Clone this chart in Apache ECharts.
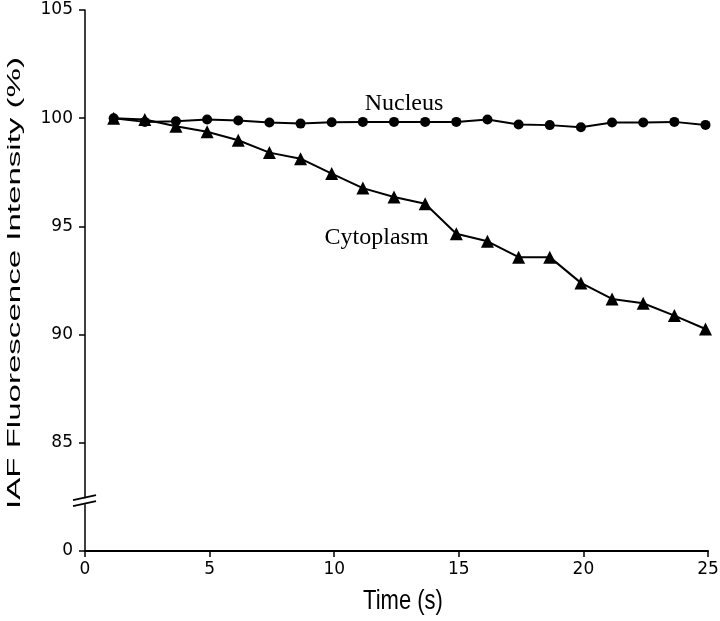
<!DOCTYPE html>
<html>
<head>
<meta charset="utf-8">
<script src="https://cdn.jsdelivr.net/npm/echarts@6/dist/echarts.min.js"></script>
<style>html,body{margin:0;padding:0;background:#fff}#c{width:720px;height:621px}</style>
</head>
<body>
<div id="c"></div>
<script>
var timeS = [1.15, 2.4, 3.65, 4.9, 6.15, 7.4, 8.65, 9.9, 11.15, 12.4, 13.65, 14.9, 16.15, 17.4, 18.65, 19.9, 21.15, 22.4, 23.65, 24.9];
var nucleus = [100.0, 99.83, 99.86, 99.94, 99.89, 99.80, 99.75, 99.81, 99.83, 99.83, 99.83, 99.83, 99.94, 99.71, 99.68, 99.58, 99.80, 99.80, 99.83, 99.69];
var cytoplasm = [100.0, 99.94, 99.63, 99.37, 98.98, 98.41, 98.13, 97.44, 96.77, 96.36, 96.05, 94.66, 94.31, 93.58, 93.58, 92.39, 91.65, 91.45, 90.88, 90.26];
var yTickLabels = {80: '0', 85: '85', 90: '90', 95: '95', 100: '100', 105: '105'};
var xTickLabels = [0, 5, 10, 15, 20, 25];
var xTitle = 'Time (s)';
var yTitle = 'IAF Fluorescence Intensity (%)';

function pairs(xs, ys) { return xs.map(function (x, i) { return [x, ys[i]]; }); }

var chart = echarts.init(document.getElementById('c'), null, {renderer: 'canvas'});
var tickFont = {fontFamily: 'DejaVu Sans', fontSize: 17, color: '#000'};
chart.setOption({
  animation: false,
  backgroundColor: '#fff',
  grid: {left: 85, right: 12, top: 10, bottom: 70, containLabel: false, outerBoundsMode: 'none'},
  xAxis: {
    type: 'value', min: 0, max: 25, interval: 5,
    axisLine: {lineStyle: {color: '#000', width: 2}},
    axisTick: {show: true, length: 6, lineStyle: {color: '#000', width: 1.5}},
    axisLabel: Object.assign({margin: 10, formatter: function (v) { return xTickLabels.indexOf(v) >= 0 ? String(v) : ''; }}, tickFont),
    splitLine: {show: false}
  },
  yAxis: {
    type: 'value', min: 80, max: 105, interval: 5,
    axisLine: {show: true, lineStyle: {color: '#000', width: 1.5}},
    axisTick: {show: true, length: 6, lineStyle: {color: '#000', width: 1.5}},
    axisLabel: Object.assign({margin: 12, formatter: function (v) { return yTickLabels[v] || ''; }}, tickFont),
    splitLine: {show: false}
  },
  series: [
    {
      name: 'Nucleus', type: 'line', data: pairs(timeS, nucleus),
      symbol: 'circle', symbolSize: 10,
      lineStyle: {color: '#000', width: 2}, itemStyle: {color: '#000'}, z: 3
    },
    {
      name: 'Cytoplasm', type: 'line', data: pairs(timeS, cytoplasm),
      symbol: 'triangle', symbolSize: 13,
      lineStyle: {color: '#000', width: 2}, itemStyle: {color: '#000'}, z: 4
    }
  ]
});

function decorate() {
  var pN = chart.convertToPixel({gridIndex: 0}, [12.8, 100.65]);
  var pC = chart.convertToPixel({gridIndex: 0}, [11.7, 94.5]);
  var pB = chart.convertToPixel({gridIndex: 0}, [0, 82.3]);
  var x = pB[0], y = pB[1];
  chart.setOption({
    graphic: [
      {type: 'text', x: pN[0], y: pN[1], style: {text: 'Nucleus', font: '24px "Liberation Serif"', fill: '#000', align: 'center', verticalAlign: 'middle'}},
      {type: 'text', x: pC[0], y: pC[1], style: {text: 'Cytoplasm', font: '24px "Liberation Serif"', fill: '#000', align: 'center', verticalAlign: 'middle'}},
      {type: 'text', x: 403, y: 601, scaleY: 1.25, style: {text: xTitle, font: '22px "Liberation Sans"', fill: '#000', align: 'center', verticalAlign: 'middle'}},
      {type: 'text', x: 15, y: 283, rotation: Math.PI / 2, scaleX: 1.74, style: {text: yTitle, font: '19px "Liberation Sans"', fill: '#000', align: 'center', verticalAlign: 'middle'}},
      {type: 'rect', shape: {x: x - 3, y: y - 3, width: 6, height: 6}, style: {fill: '#fff'}, z: 100},
      {type: 'line', shape: {x1: x - 12, y1: y - 1, x2: x + 11, y2: y - 6}, style: {stroke: '#000', lineWidth: 1.8}, z: 101},
      {type: 'line', shape: {x1: x - 12, y1: y + 5, x2: x + 11, y2: y}, style: {stroke: '#000', lineWidth: 1.8}, z: 101}
    ]
  });
}
decorate();
</script>
</body>
</html>
